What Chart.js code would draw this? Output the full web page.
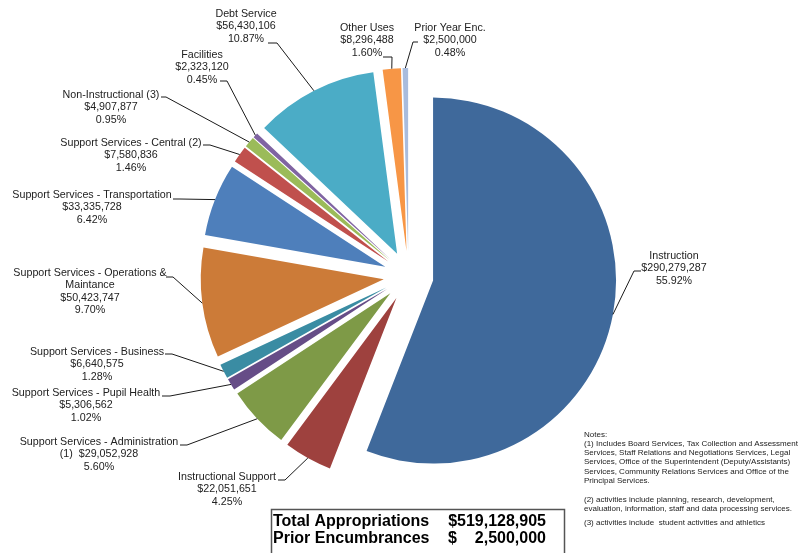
<!DOCTYPE html>
<html>
<head>
<meta charset="utf-8">
<title>Appropriations</title>
<script src="https://cdn.jsdelivr.net/npm/chart.js@4.4.1/dist/chart.umd.min.js"></script>
<style>
  html, body { margin: 0; padding: 0; background: #fff; }
  #wrap { width: 800px; height: 553px; }
</style>
</head>
<body>
<div id="wrap"><canvas id="budgetPie" width="800" height="553"></canvas></div>
<script>
// slices, clockwise from 12 o'clock
const categories = [
  'Instruction', 'Instructional Support', 'Support Services - Administration (1)',
  'Support Services - Pupil Health', 'Support Services - Business',
  'Support Services - Operations & Maintance', 'Support Services - Transportation',
  'Support Services - Central (2)', 'Non-Instructional (3)', 'Facilities',
  'Debt Service', 'Other Uses', 'Prior Year Enc.'
];
const amounts = [
  290279287, 22051651, 29052928, 5306562, 6640575, 50423747, 33335728,
  7580836, 4907877, 2323120, 56430106, 8296488, 2500000
];
const percents = [
  '55.92%', '4.25%', '5.60%', '1.02%', '1.28%', '9.70%', '6.42%',
  '1.46%', '0.95%', '0.45%', '10.87%', '1.60%', '0.48%'
];
// label text lines; {v} is replaced by the amount, otherwise it goes on its own line
const labelLines = [
  ['Instruction'], ['Instructional Support'],
  ['Support Services - Administration', '(1)  {v}'],
  ['Support Services - Pupil Health'], ['Support Services - Business'],
  ['Support Services - Operations &', 'Maintance'],
  ['Support Services - Transportation'], ['Support Services - Central (2)'],
  ['Non-Instructional (3)'], ['Facilities'], ['Debt Service'], ['Other Uses'],
  ['Prior Year Enc.']
];
const colors = [
  '#3f699b', '#9e413e', '#7e9a47', '#664d87', '#3a8ca3', '#cc7b38', '#4e7fbb',
  '#c0504d', '#9bbb59', '#8064a2', '#4bacc6', '#f79646', '#a9bcdd'
];
const totalLines = [
  ['Total Appropriations', '$519,128,905', ''],
  ['Prior Encumbrances', '2,500,000', '$']
];
const notes = [
  ['Notes:', 435],
  ['(1) Includes Board Services, Tax Collection and Assessment', 443.5],
  ['Services, Staff Relations and Negotiations Services, Legal', 452.8],
  ['Services, Office of the Superintendent (Deputy/Assistants)', 462.1],
  ['Services, Community Relations Services and Office of the', 471.4],
  ['Principal Services.', 480.7],
  ['(2) activities include planning, research, development,', 499.3],
  ['evaluation, information, staff and data processing services.', 508.6],
  ['(3) activities include  student activities and athletics', 523]
];

// label placement: text block centre / first line, leader start, leader elbow
const labelPos = [
  [674, 256], [227, 477], [99, 442], [86, 393], [97, 352], [90, 273], [92, 195],
  [131, 143], [111, 95], [202, 55], [246, 14], [367, 28], [450, 28]
];
const leaderStart = [
  [641, 271], [278, 480], [180, 445], [162, 396], [165, 354], [166, 277], [173, 199],
  [203, 145], [161, 97], [220, 81], [268, 43], [383, 57], [418, 42]
];
const leaderElbow = [
  [634, 271], [285, 480], [187, 445], [170, 396], [172, 354], [173, 277], [180, 199],
  [210, 145], [166, 97], [227, 81], [277, 43], [392, 57], [413, 42]
];

const EXPLODE = 25;
const FONT = '"Liberation Sans", Arial, sans-serif';

// push every slice out along its middle angle by the same distance
const explode = {
  id: 'explode',
  afterDatasetUpdate(chart, args) {
    args.meta.data.forEach(arc => {
      if (arc._exploded) return;
      const base = arc.draw;
      arc.draw = function (ctx, area) {
        const mid = (this.startAngle + this.endAngle) / 2;
        ctx.save();
        ctx.translate(Math.cos(mid) * EXPLODE, Math.sin(mid) * EXPLODE);
        base.call(this, ctx, area);
        ctx.restore();
      };
      arc._exploded = true;
    });
  }
};

const calloutLabels = {
  id: 'calloutLabels',
  afterDraw(chart) {
    const ctx = chart.ctx;
    const arcs = chart.getDatasetMeta(0).data;
    ctx.save();
    ctx.strokeStyle = '#1a1a1a';
    ctx.lineWidth = 1;
    arcs.forEach((arc, i) => {
      const mid = (arc.startAngle + arc.endAngle) / 2;
      const r = arc.outerRadius + EXPLODE;
      ctx.beginPath();
      ctx.moveTo(leaderStart[i][0], leaderStart[i][1]);
      ctx.lineTo(leaderElbow[i][0], leaderElbow[i][1]);
      ctx.lineTo(arc.x + Math.cos(mid) * r, arc.y + Math.sin(mid) * r);
      ctx.stroke();

      const value = '$' + amounts[i].toLocaleString('en-US');
      let lines = labelLines[i].map(s => s.replace('{v}', value));
      if (!labelLines[i].some(s => s.includes('{v}'))) lines.push(value);
      lines.push(percents[i]);
      ctx.fillStyle = '#222';
      ctx.font = '10.7px ' + FONT;
      ctx.textAlign = 'center';
      ctx.textBaseline = 'middle';
      lines.forEach((s, k) => ctx.fillText(s, labelPos[i][0], labelPos[i][1] + k * 12.4));
    });

    // notes
    ctx.fillStyle = '#222';
    ctx.font = '8px ' + FONT;
    ctx.textAlign = 'left';
    notes.forEach(([s, y]) => ctx.fillText(s, 584, y));

    // totals box
    ctx.strokeStyle = '#555';
    ctx.lineWidth = 1.5;
    ctx.strokeRect(271.5, 509.5, 293, 60);
    ctx.fillStyle = '#000';
    ctx.font = 'bold 16px ' + FONT;
    totalLines.forEach(([name, amt, sign], k) => {
      const y = 522 + k * 17;
      ctx.textAlign = 'left';
      ctx.fillText(name, 273, y);
      if (sign) ctx.fillText(sign, 448, y);
      ctx.textAlign = 'right';
      ctx.fillText(amt, 546, y);
    });
    ctx.restore();
  }
};

new Chart(document.getElementById('budgetPie').getContext('2d'), {
  type: 'pie',
  data: {
    labels: categories,
    datasets: [{
      data: amounts,
      backgroundColor: colors,
      borderWidth: 0,
      hoverOffset: 0
    }]
  },
  options: {
    responsive: false,
    animation: false,
    radius: 183,
    layout: { padding: { left: 17, right: 0, top: 0, bottom: 1 } },
    plugins: { legend: { display: false }, tooltip: { enabled: false } }
  },
  plugins: [explode, calloutLabels]
});
</script>
</body>
</html>
